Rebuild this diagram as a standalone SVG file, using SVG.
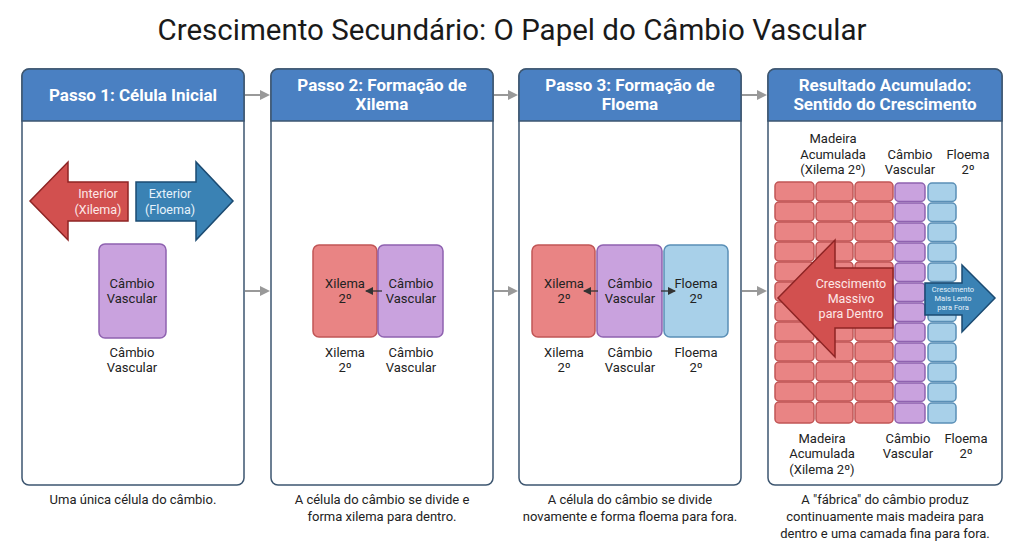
<svg xmlns="http://www.w3.org/2000/svg" width="1024" height="559" viewBox="0 0 1024 559">
<defs>
<marker id="ga" markerWidth="10" markerHeight="10" refX="8" refY="5" orient="auto" markerUnits="userSpaceOnUse"><path d="M0,0 L10,5 L0,10 z" fill="#999"/></marker>
<marker id="da" markerWidth="8" markerHeight="8" refX="7" refY="4" orient="auto" markerUnits="userSpaceOnUse"><path d="M0,0 L8,4 L0,8 z" fill="#333"/></marker>
<style>
text{font-family:Roboto,"Liberation Sans",sans-serif;}
.title{font-size:29.5px;fill:#1a1a1a;text-anchor:middle;}
.panel{fill:#fff;stroke:#3d5670;stroke-width:1.5;}
.hdr{fill:#4a80c2;stroke:#3d5670;stroke-width:1.5;}
.ht{font-size:17px;font-weight:bold;fill:#fff;text-anchor:middle;}
.lbl{font-size:13px;fill:#222;text-anchor:middle;}
.cap{font-size:13px;fill:#222;text-anchor:middle;}
.red{fill:#e98484;stroke:#c15555;stroke-width:1.5;}
.pur{fill:#c9a2de;stroke:#8f62b0;stroke-width:1.5;}
.blu{fill:#a8d0e9;stroke:#5a8fb6;stroke-width:1.5;}
.conn{stroke:#999;stroke-width:2;fill:none;}
.dark{stroke:#333;stroke-width:1.3;fill:none;}
.rarr{fill:#d2504f;stroke:#8e2424;stroke-width:1.5;}
.barr{fill:#3a82b4;stroke:#1b4b72;stroke-width:1.5;}
.at{fill:#fde8e8;text-anchor:middle;}
.bt{fill:#e6f2fb;text-anchor:middle;}
</style>
</defs>

<text class="title" x="512" y="40">Crescimento Secundário: O Papel do Câmbio Vascular</text>

<g id="connectors">
<line class="conn" x1="245" y1="95" x2="268" y2="95" marker-end="url(#ga)"/>
<line class="conn" x1="245" y1="291" x2="268" y2="291" marker-end="url(#ga)"/>
<line class="conn" x1="494" y1="95" x2="516" y2="95" marker-end="url(#ga)"/>
<line class="conn" x1="494" y1="291" x2="516" y2="291" marker-end="url(#ga)"/>
<line class="conn" x1="742" y1="95" x2="765" y2="95" marker-end="url(#ga)"/>
<line class="conn" x1="742" y1="291" x2="765" y2="291" marker-end="url(#ga)"/>
</g>

<g id="panel1">
<rect class="panel" x="22" y="69" width="222" height="416" rx="7"/>
<path class="hdr" d="M22,121 V76 a7,7 0 0 1 7,-7 H237 a7,7 0 0 1 7,7 V121 Z"/>
<text class="ht" x="133" y="101">Passo 1: Célula Inicial</text>
<path class="rarr" d="M30,201 L68,162 L68,182 L128,182 L128,221 L68,221 L68,240 Z"/>
<text class="at" x="98" y="198" font-size="12.5">Interior</text>
<text class="at" x="98" y="214" font-size="12.5">(Xilema)</text>
<path class="barr" d="M136,182 L196,182 L196,162 L233,201 L196,240 L196,221 L136,221 Z"/>
<text class="bt" x="170" y="198" font-size="12.5">Exterior</text>
<text class="bt" x="170" y="214" font-size="12.5">(Floema)</text>
<rect class="pur" x="99" y="244" width="67" height="94" rx="6"/>
<text class="lbl" x="132" y="288">Câmbio</text>
<text class="lbl" x="132" y="303">Vascular</text>
<text class="lbl" x="132" y="357">Câmbio</text>
<text class="lbl" x="132" y="372">Vascular</text>
<text class="cap" x="133" y="504">Uma única célula do câmbio.</text>
</g>

<g id="panel2">
<rect class="panel" x="271" y="69" width="222" height="416" rx="7"/>
<path class="hdr" d="M271,121 V76 a7,7 0 0 1 7,-7 H486 a7,7 0 0 1 7,7 V121 Z"/>
<text class="ht" x="382" y="91">Passo 2: Formação de</text>
<text class="ht" x="382" y="110">Xilema</text>
<rect class="red" x="313" y="245" width="64" height="92" rx="6"/>
<rect class="pur" x="378" y="245" width="65" height="92" rx="6"/>
<text class="lbl" x="345" y="288">Xilema</text>
<text class="lbl" x="345" y="303">2º</text>
<text class="lbl" x="411" y="288">Câmbio</text>
<text class="lbl" x="411" y="303">Vascular</text>
<line class="dark" x1="382" y1="291" x2="366" y2="291" marker-end="url(#da)"/>
<text class="lbl" x="345" y="357">Xilema</text>
<text class="lbl" x="345" y="372">2º</text>
<text class="lbl" x="411" y="357">Câmbio</text>
<text class="lbl" x="411" y="372">Vascular</text>
<text class="cap" x="382" y="504">A célula do câmbio se divide e</text>
<text class="cap" x="382" y="521">forma xilema para dentro.</text>
</g>

<g id="panel3">
<rect class="panel" x="519" y="69" width="222" height="416" rx="7"/>
<path class="hdr" d="M519,121 V76 a7,7 0 0 1 7,-7 H734 a7,7 0 0 1 7,7 V121 Z"/>
<text class="ht" x="630" y="91">Passo 3: Formação de</text>
<text class="ht" x="630" y="110">Floema</text>
<rect class="red" x="532" y="245" width="63" height="92" rx="6"/>
<rect class="pur" x="597" y="245" width="65" height="92" rx="6"/>
<rect class="blu" x="664" y="245" width="64" height="92" rx="6"/>
<text class="lbl" x="564" y="288">Xilema</text>
<text class="lbl" x="564" y="303">2º</text>
<text class="lbl" x="630" y="288">Câmbio</text>
<text class="lbl" x="630" y="303">Vascular</text>
<text class="lbl" x="696" y="288">Floema</text>
<text class="lbl" x="696" y="303">2º</text>
<line class="dark" x1="598" y1="291" x2="584" y2="291" marker-end="url(#da)"/>
<line class="dark" x1="661" y1="291" x2="675" y2="291" marker-end="url(#da)"/>
<text class="lbl" x="564" y="357">Xilema</text>
<text class="lbl" x="564" y="372">2º</text>
<text class="lbl" x="630" y="357">Câmbio</text>
<text class="lbl" x="630" y="372">Vascular</text>
<text class="lbl" x="696" y="357">Floema</text>
<text class="lbl" x="696" y="372">2º</text>
<text class="cap" x="630" y="504">A célula do câmbio se divide</text>
<text class="cap" x="630" y="521">novamente e forma floema para fora.</text>
</g>

<g id="panel4">
<rect class="panel" x="768" y="69" width="234" height="416" rx="7"/>
<path class="hdr" d="M768,121 V76 a7,7 0 0 1 7,-7 H995 a7,7 0 0 1 7,7 V121 Z"/>
<text class="ht" x="885" y="91">Resultado Acumulado:</text>
<text class="ht" x="885" y="110">Sentido do Crescimento</text>
<text class="lbl" x="833" y="143">Madeira</text>
<text class="lbl" x="833" y="159">Acumulada</text>
<text class="lbl" x="833" y="174">(Xilema 2º)</text>
<text class="lbl" x="910" y="159">Câmbio</text>
<text class="lbl" x="910" y="174">Vascular</text>
<text class="lbl" x="968" y="159">Floema</text>
<text class="lbl" x="968" y="174">2º</text>
<g id="xylem-cells">
<rect class="red" x="775" y="182" width="39" height="19" rx="4"/><rect class="red" x="816" y="182" width="37" height="19" rx="4"/><rect class="red" x="855" y="182" width="38" height="19" rx="4"/>
<rect class="red" x="775" y="202" width="39" height="19" rx="4"/><rect class="red" x="816" y="202" width="37" height="19" rx="4"/><rect class="red" x="855" y="202" width="38" height="19" rx="4"/>
<rect class="red" x="775" y="222" width="39" height="19" rx="4"/><rect class="red" x="816" y="222" width="37" height="19" rx="4"/><rect class="red" x="855" y="222" width="38" height="19" rx="4"/>
<rect class="red" x="775" y="242" width="39" height="19" rx="4"/><rect class="red" x="816" y="242" width="37" height="19" rx="4"/><rect class="red" x="855" y="242" width="38" height="19" rx="4"/>
<rect class="red" x="775" y="262" width="39" height="19" rx="4"/><rect class="red" x="816" y="262" width="37" height="19" rx="4"/><rect class="red" x="855" y="262" width="38" height="19" rx="4"/>
<rect class="red" x="775" y="282" width="39" height="19" rx="4"/><rect class="red" x="816" y="282" width="37" height="19" rx="4"/><rect class="red" x="855" y="282" width="38" height="19" rx="4"/>
<rect class="red" x="775" y="302" width="39" height="19" rx="4"/><rect class="red" x="816" y="302" width="37" height="19" rx="4"/><rect class="red" x="855" y="302" width="38" height="19" rx="4"/>
<rect class="red" x="775" y="322" width="39" height="19" rx="4"/><rect class="red" x="816" y="322" width="37" height="19" rx="4"/><rect class="red" x="855" y="322" width="38" height="19" rx="4"/>
<rect class="red" x="775" y="342" width="39" height="19" rx="4"/><rect class="red" x="816" y="342" width="37" height="19" rx="4"/><rect class="red" x="855" y="342" width="38" height="19" rx="4"/>
<rect class="red" x="775" y="362" width="39" height="19" rx="4"/><rect class="red" x="816" y="362" width="37" height="19" rx="4"/><rect class="red" x="855" y="362" width="38" height="19" rx="4"/>
<rect class="red" x="775" y="382" width="39" height="19" rx="4"/><rect class="red" x="816" y="382" width="37" height="19" rx="4"/><rect class="red" x="855" y="382" width="38" height="19" rx="4"/>
<rect class="red" x="775" y="402" width="39" height="21" rx="4"/><rect class="red" x="816" y="402" width="37" height="21" rx="4"/><rect class="red" x="855" y="402" width="38" height="21" rx="4"/>
</g>
<g id="cambium-cells">
<rect class="pur" x="895" y="183" width="30" height="18.5" rx="4"/>
<rect class="pur" x="895" y="203" width="30" height="18.5" rx="4"/>
<rect class="pur" x="895" y="223" width="30" height="18.5" rx="4"/>
<rect class="pur" x="895" y="243" width="30" height="18.5" rx="4"/>
<rect class="pur" x="895" y="263" width="30" height="18.5" rx="4"/>
<rect class="pur" x="895" y="283" width="30" height="18.5" rx="4"/>
<rect class="pur" x="895" y="303" width="30" height="18.5" rx="4"/>
<rect class="pur" x="895" y="323" width="30" height="18.5" rx="4"/>
<rect class="pur" x="895" y="343" width="30" height="18.5" rx="4"/>
<rect class="pur" x="895" y="363" width="30" height="18.5" rx="4"/>
<rect class="pur" x="895" y="383" width="30" height="18.5" rx="4"/>
<rect class="pur" x="895" y="403" width="30" height="20" rx="4"/>
</g>
<g id="phloem-cells">
<rect class="blu" x="928" y="183" width="28" height="18.5" rx="4"/>
<rect class="blu" x="928" y="203" width="28" height="18.5" rx="4"/>
<rect class="blu" x="928" y="223" width="28" height="18.5" rx="4"/>
<rect class="blu" x="928" y="243" width="28" height="18.5" rx="4"/>
<rect class="blu" x="928" y="263" width="28" height="18.5" rx="4"/>
<rect class="blu" x="928" y="283" width="28" height="18.5" rx="4"/>
<rect class="blu" x="928" y="303" width="28" height="18.5" rx="4"/>
<rect class="blu" x="928" y="323" width="28" height="18.5" rx="4"/>
<rect class="blu" x="928" y="343" width="28" height="18.5" rx="4"/>
<rect class="blu" x="928" y="363" width="28" height="18.5" rx="4"/>
<rect class="blu" x="928" y="383" width="28" height="18.5" rx="4"/>
<rect class="blu" x="928" y="403" width="28" height="20" rx="4"/>
</g>
<path class="rarr" d="M778,298 L835,240 L835,268 L893,268 L893,328 L835,328 L835,357 Z"/>
<text class="at" x="851" y="288" font-size="12.5">Crescimento</text>
<text class="at" x="851" y="303" font-size="12.5">Massivo</text>
<text class="at" x="851" y="318" font-size="12.5">para Dentro</text>
<path class="barr" d="M925,283 L962,283 L962,265 L995,298 L962,332 L962,315 L925,315 Z"/>
<text class="bt" x="953" y="292" font-size="7.5">Crescimento</text>
<text class="bt" x="953" y="301" font-size="7.5">Mais Lento</text>
<text class="bt" x="953" y="310" font-size="7.5">para Fora</text>
<text class="lbl" x="822" y="443">Madeira</text>
<text class="lbl" x="822" y="458">Acumulada</text>
<text class="lbl" x="822" y="474">(Xilema 2º)</text>
<text class="lbl" x="908" y="443">Câmbio</text>
<text class="lbl" x="908" y="458">Vascular</text>
<text class="lbl" x="966" y="443">Floema</text>
<text class="lbl" x="966" y="458">2º</text>
<text class="cap" x="885" y="504">A "fábrica" do câmbio produz</text>
<text class="cap" x="885" y="521">continuamente mais madeira para</text>
<text class="cap" x="885" y="538">dentro e uma camada fina para fora.</text>
</g>
</svg>
